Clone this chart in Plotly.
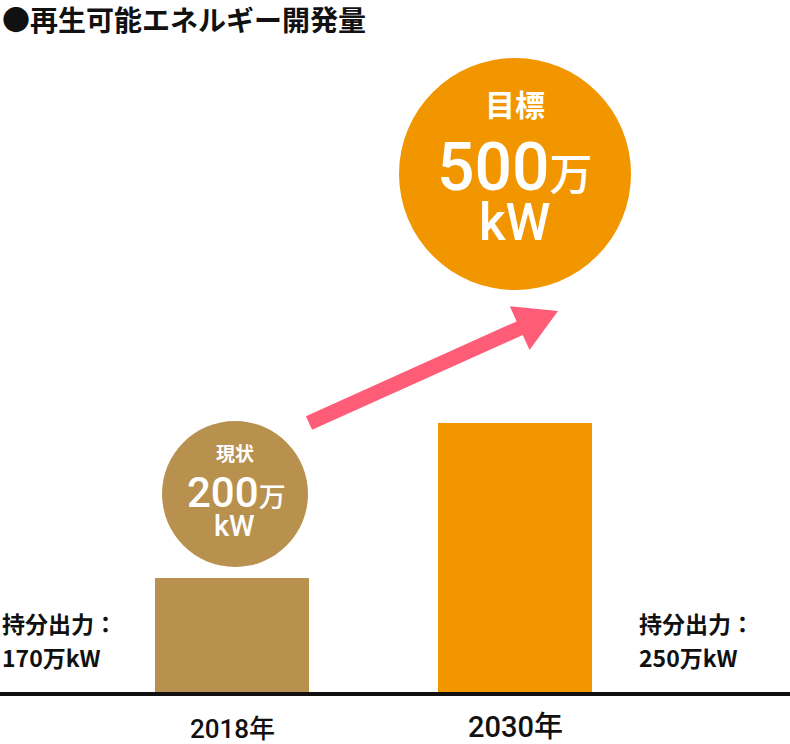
import plotly.graph_objects as go
import math

# ---- data ----
years = ["2018年", "2030年"]
share_output = [170, 250]          # 持分出力 (万kW)
share_labels = ["170万kW", "250万kW"]
circle_titles = ["現状", "目標"]
circle_values = ["200", "500"]     # 開発量 (万kW)
bar_colors = ["#B8914F", "#F29600"]
title_text = "●再生可能エネルギー開発量"

# ---- layout constants ----
W, H = 790, 744
PLOT_H = 694
Y0, Y1 = 110.1, 468.5
X0, X1 = -0.8198, 1.9717
CJK = "Noto Sans CJK JP"
NUM = "Roboto, 'Noto Sans CJK JP'"


def xp(px):
    return px / W


def yp(py):
    return (PLOT_H - py) / PLOT_H


fig = go.Figure()
fig.add_trace(go.Bar(
    x=years, y=share_output, width=0.544,
    marker=dict(color=bar_colors, line=dict(width=0)),
    hoverinfo="skip", showlegend=False,
))

shapes = []
# baseline
shapes.append(dict(type="line", xref="paper", yref="paper", x0=0, x1=1, y0=0, y1=0,
                   line=dict(color="#111111", width=4)))
# circles centred above the categories
circ = [(0, 3, 494, 73, bar_colors[0]), (1, 0, 174, 116, bar_colors[1])]
for idx, dx, cy, r, col in circ:
    shapes.append(dict(type="circle", xref="x", xsizemode="pixel", xanchor=idx,
                       x0=dx - r, x1=dx + r, yref="paper", y0=yp(cy + r), y1=yp(cy - r),
                       fillcolor=col, line=dict(width=0), layer="above"))

# arrow polygon (pixel geometry)
tail = (309, 423)
tip = (558, 311)
dxv, dyv = tip[0] - tail[0], tip[1] - tail[1]
L = math.hypot(dxv, dyv)
ux, uy = dxv / L, dyv / L
nx, ny = -uy, ux
hw, hh, hl = 7.5, 24, 42
bx, by = tip[0] - ux * hl, tip[1] - uy * hl
pts = [
    (tail[0] + nx * hw, tail[1] + ny * hw),
    (bx + nx * hw, by + ny * hw),
    (bx + nx * hh, by + ny * hh),
    tip,
    (bx - nx * hh, by - ny * hh),
    (bx - nx * hw, by - ny * hw),
    (tail[0] - nx * hw, tail[1] - ny * hw),
]
path = "M " + " L ".join(f"{xp(a):.5f},{yp(b):.5f}" for a, b in pts) + " Z"
shapes.append(dict(type="path", xref="paper", yref="paper", path=path,
                   fillcolor="#FF5C77", line=dict(width=0)))

ann = []


def add(text, x, y, size, color="#111111", family=CJK, xanchor="center", weight="bold", xref="paper"):
    ann.append(dict(text=text, x=x, y=y, xref=xref, yref="paper", xanchor=xanchor,
                    yanchor="middle", showarrow=False,
                    font=dict(size=size, color=color, family=family, weight=weight)))


add(title_text, 0, yp(19), 28, xanchor="left")
# circle texts
add(circle_titles[0], xp(235), yp(452), 19, color="white")
add(f"{circle_values[0]}<span style='font-size:27px'>万</span>", xp(236), yp(492), 42,
    color="white", family=NUM, weight=500)
add("kW", xp(234), yp(526), 29, color="white", family=NUM, weight=500)
add(circle_titles[1], xp(515), yp(103), 30, color="white")
add(f"{circle_values[1]}<span style='font-size:43px'>万</span>", xp(515), yp(167), 66,
    color="white", family=NUM, weight=500)
add("kW", xp(515), yp(223), 51, color="white", family=NUM, weight=500)

# side labels
add("持分出力：", 0, yp(623), 23, xanchor="left")
add(share_labels[0], 0, yp(657), 23, xanchor="left")
add("持分出力：", xp(637), yp(623), 23, xanchor="left")
add(share_labels[1], xp(637), yp(657), 23, xanchor="left")

# category labels
add(years[0], 0, yp(729), 26, family=NUM, weight=500, xref="x")
add(years[1], 1, yp(727), 29, family=NUM, weight=500, xref="x")

fig.update_layout(
    width=W, height=H,
    margin=dict(l=0, r=0, t=0, b=H - PLOT_H, pad=0),
    paper_bgcolor="white", plot_bgcolor="white",
    xaxis=dict(range=[X0, X1], showticklabels=False, showgrid=False, zeroline=False,
               showline=False, ticks="", fixedrange=True),
    yaxis=dict(range=[Y0, Y1], showticklabels=False, showgrid=False, zeroline=False,
               showline=False, ticks="", fixedrange=True),
    shapes=shapes, annotations=ann, bargap=0,
)
fig.write_html("out.html", config={"displayModeBar": False},
               post_script="document.body.style.margin='0';document.body.style.overflow='hidden';")
